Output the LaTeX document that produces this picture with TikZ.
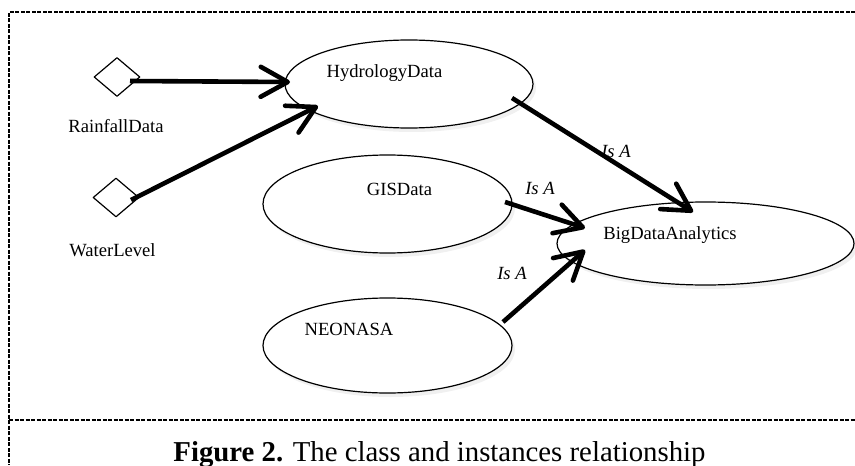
\documentclass[tikz,border=0pt]{standalone}
\usepackage{fontspec}
\setmainfont{Liberation Serif}
\usepackage{tikz}
\usetikzlibrary{calc}
\usetikzlibrary{shapes.geometric,arrows.meta,shadows}

\tikzset{
  cls/.style={ellipse, draw, line width=0.6pt, fill=white, inner sep=0pt,
    drop shadow={shadow xshift=1.5pt, shadow yshift=-2pt, opacity=0.12}},
  inst/.style={diamond, draw, line width=0.6pt, fill=white, inner sep=0pt,
    minimum width=23pt, minimum height=19.5pt},
  txt/.style={anchor=base, inner sep=0pt, font=\fontsize{9.3}{11}\selectfont},
  isa/.style={line width=2.3pt, -{Straight Barb[length=13.5pt,width=15pt,round]}},
  frame/.style={line width=0.6pt, dash pattern=on 2pt off 0.75pt}
}

\begin{document}
\begin{tikzpicture}[x=0.5pt, y=-0.5pt, line join=round]
\useasboundingbox (0,0) rectangle (855,465);
\draw [frame] (855,12) -- (9,12) -- (9,465);
\draw [frame] (9,420) -- (855,420);
% classes
\node [cls, minimum width=124pt, minimum height=44pt] (hyd) at (409,84) {};
\node [cls, minimum width=124.5pt, minimum height=49pt] (gis) at (387.5,204) {};
\node [cls, minimum width=124.5pt, minimum height=47.5pt] (neo) at (387.5,345.5) {};
\node [cls, minimum width=148.5pt, minimum height=41.5pt] (bda) at (705.5,243.5) {};
% instances
\node [inst] (rain) at (117,77) {};
\node [inst] (wl) at (116,197.5) {};
\begin{scope}[every node/.style={txt}]
\node (hydtxt) at (384.5,78) {HydrologyData};
\node (gistxt) at (399.5,195) {GISData};
\node (neotxt) at (349,335) {NEONASA};
\node (bdatxt) at (670,239) {BigDataAnalytics};
\node (raintxt) at (116,132) {RainfallData};
\node (wltxt) at (112.5,256) {WaterLevel};
\node (isa1) at (616,157) {\itshape Is A};
\node (isa2) at (540,194) {\itshape Is A};
\node (isa3) at (512,279) {\itshape Is A};
\end{scope}
% connectors
\draw [isa] ($(rain)+(13,4)$) -- ($(hyd)+(-119,-2)$);
\draw [isa] ($(wl)+(15,2.5)$) -- ($(hyd)+(-91,22)$);
\draw [isa] ($(hyd)+(103,14)$) -- ($(bda)+(-12.5,-31.5)$);
\draw [isa] ($(gis)+(117.5,-2)$) -- ($(bda)+(-120.5,-15.5)$);
\draw [isa] ($(neo)+(115.5,-23.5)$) -- ($(bda)+(-120.5,6.5)$);
% caption
\node [anchor=base, inner sep=0pt, font=\fontsize{14.4}{17}\selectfont] (cap) at (439.5,461.7)
  {\textbf{Figure 2.} The class and instances relationship};
\end{tikzpicture}
\end{document}
